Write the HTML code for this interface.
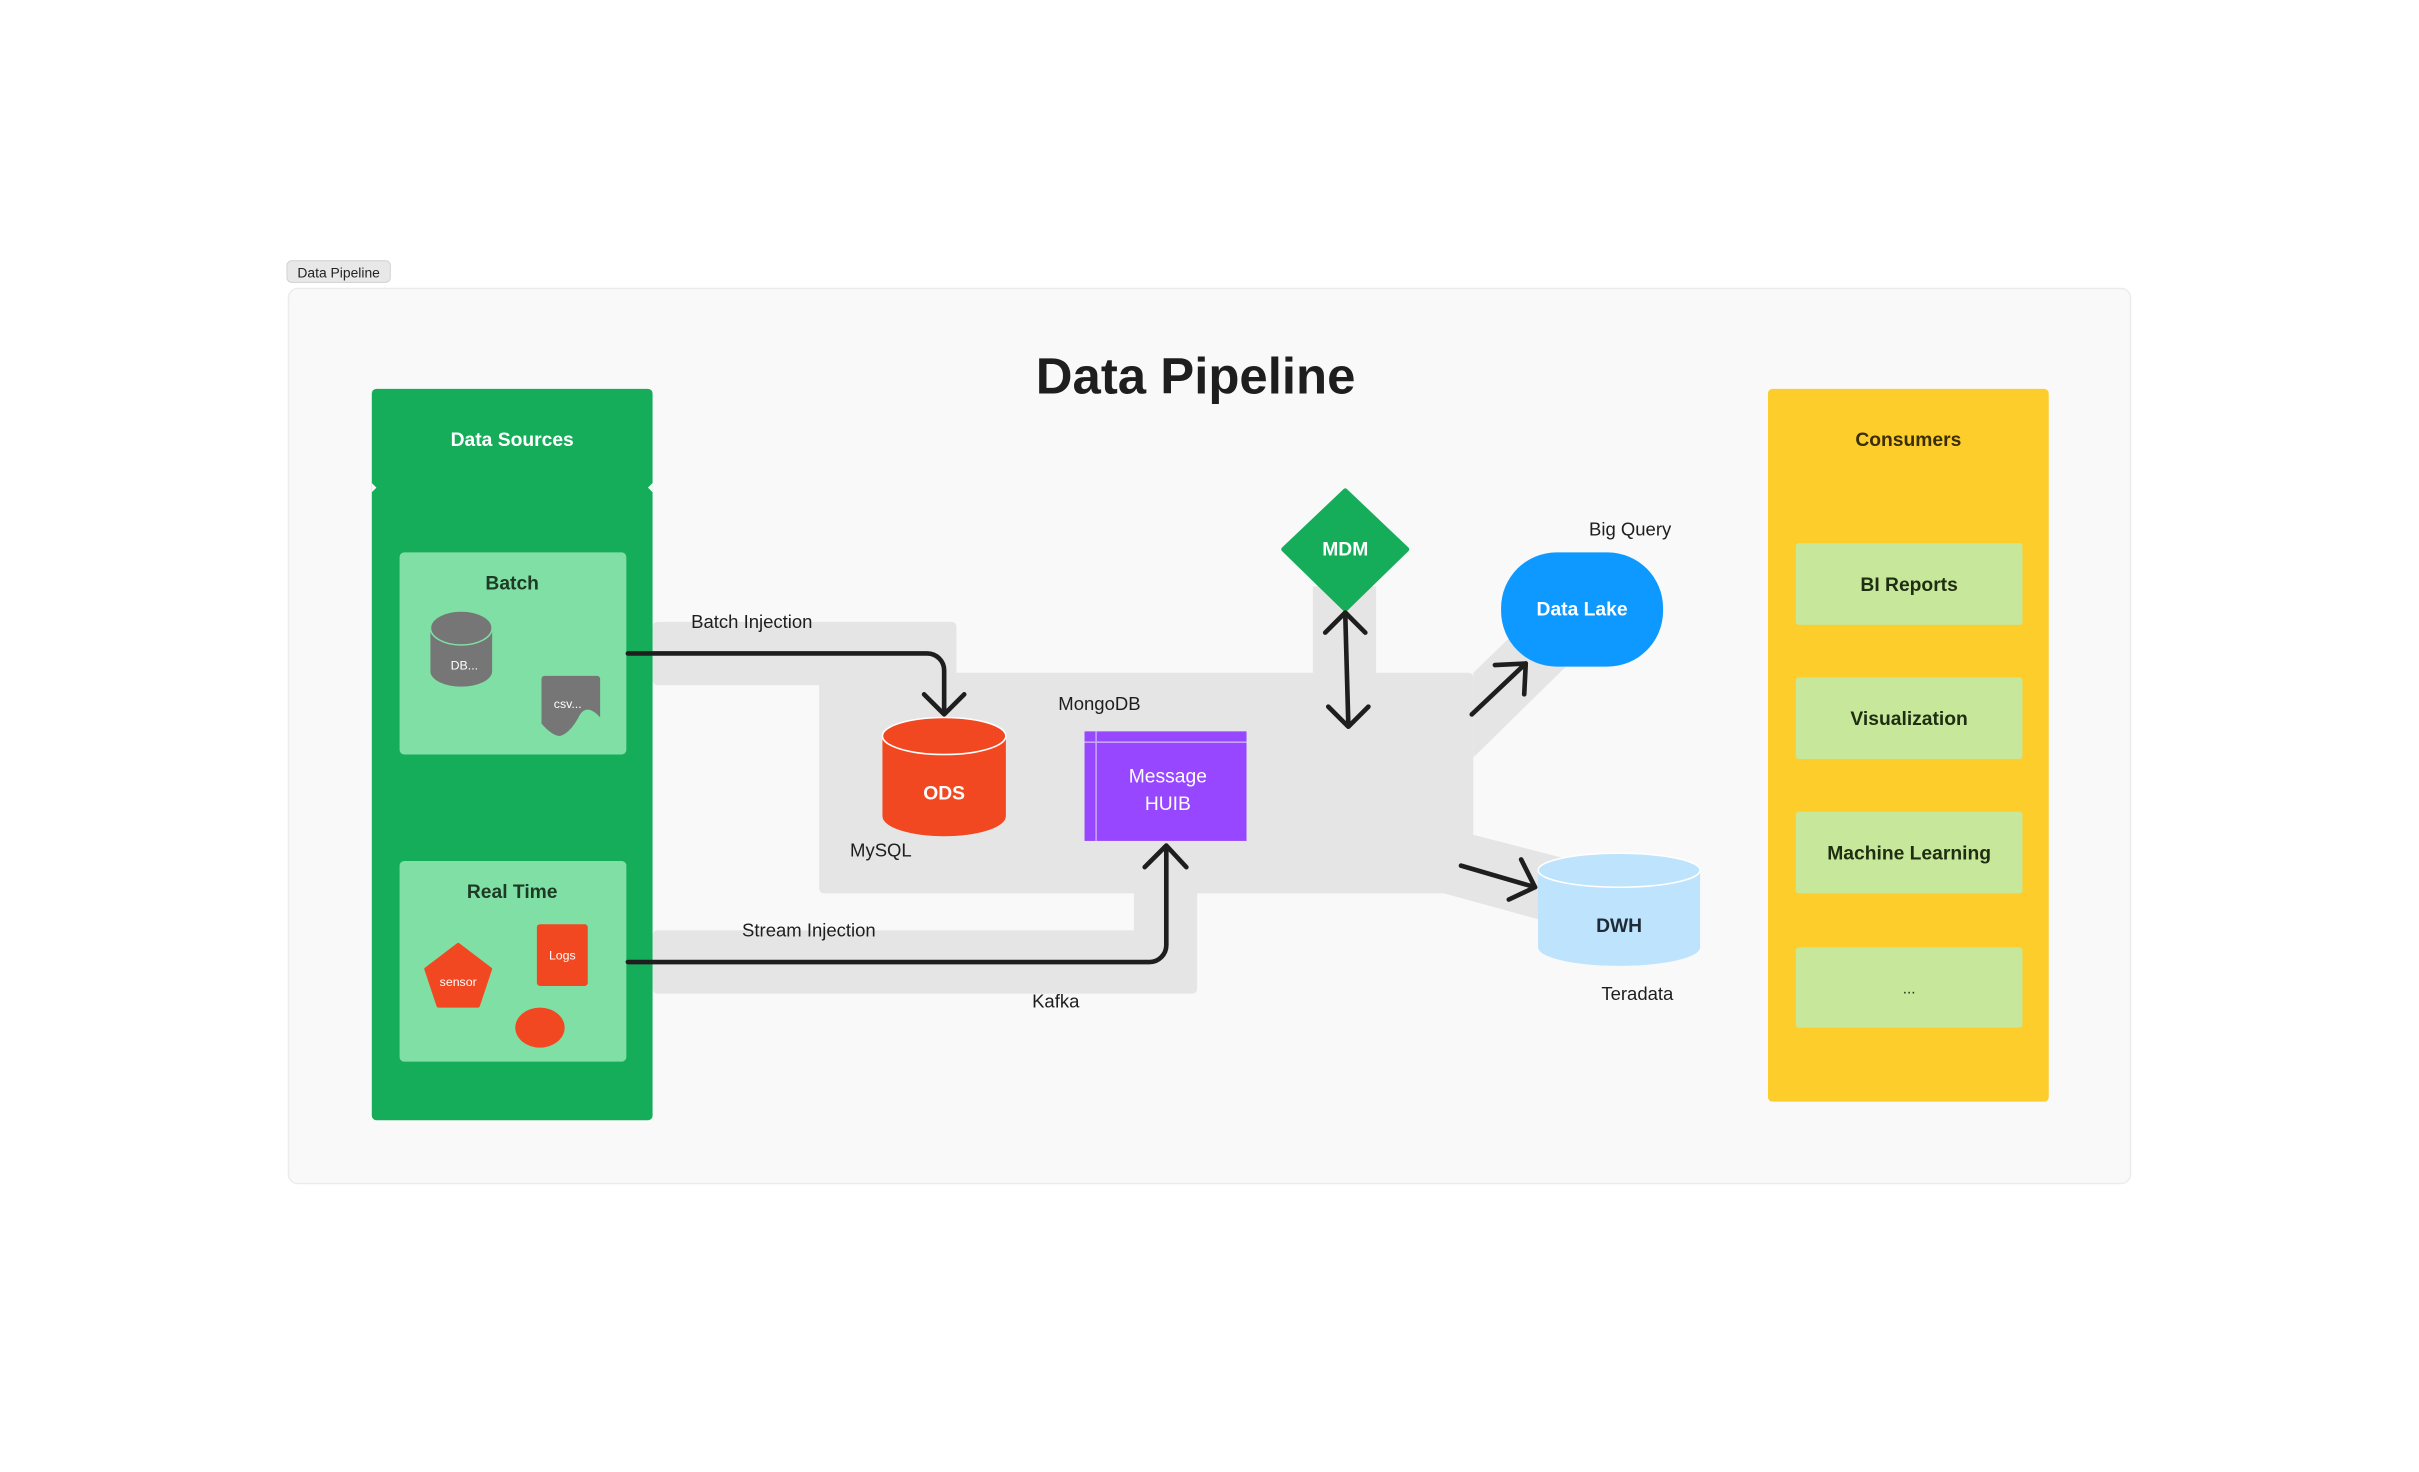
<!DOCTYPE html>
<html><head><meta charset="utf-8"><style>
html,body{margin:0;padding:0;background:#fff;width:2419px;height:1472px;overflow:hidden}
svg{display:block}
text{font-family:"Liberation Sans",sans-serif}
</style></head><body>
<svg width="2419" height="1472" viewBox="0 0 1568 954" preserveAspectRatio="none" xmlns="http://www.w3.org/2000/svg">
<rect x="0" y="0" width="1568" height="954" fill="#ffffff"/>
<!-- tag -->
<rect x="186" y="169" width="67" height="14" rx="3" fill="#e8e8e8" stroke="#cfcfcf" stroke-width="0.6"/>
<text x="219.5" y="180" font-size="9" text-anchor="middle" fill="#222">Data Pipeline</text>
<!-- frame -->
<rect x="187" y="187" width="1194" height="580" rx="6" fill="#f9f9f9" stroke="#ececec" stroke-width="1"/>
<text x="775" y="255" font-size="33" font-weight="bold" text-anchor="middle" fill="#1e1e1e">Data Pipeline</text>

<!-- gray bands -->
<g fill="#e5e5e5">
<rect x="423" y="403" width="197" height="41" rx="3"/>
<rect x="531" y="436" width="424" height="143" rx="3"/>
<rect x="588" y="436" width="32" height="8"/>
<rect x="851" y="380" width="41" height="60"/>
<rect x="423" y="603" width="353" height="41" rx="3"/>
<rect x="735" y="575" width="41" height="35"/>
<polygon points="955,436 985,407 1015,432 955,491"/>
<polygon points="955,541 1013,556 998,596 936,579"/>
</g>

<!-- Data Sources -->
<rect x="241" y="252" width="182" height="474" rx="3" fill="#16ad5a"/>
<path d="M241,313 l3,3 l-3,3 Z M423,313 l-3,3 l3,3 Z" fill="#f9f9f9"/>
<text x="332" y="289" font-size="12.5" font-weight="bold" text-anchor="middle" fill="#fff">Data Sources</text>

<rect x="259" y="358" width="147" height="131" rx="3" fill="#80dfa5"/>
<text x="332" y="382" font-size="12.5" font-weight="bold" text-anchor="middle" fill="#1e3a24">Batch</text>
<path d="M279,407 v28 a20,10 0 0 0 40,0 v-28 Z" fill="#767676"/>
<ellipse cx="299" cy="407" rx="20" ry="11" fill="#767676" stroke="#80dfa5" stroke-width="1"/>
<text x="301" y="434" font-size="8" text-anchor="middle" fill="#fff">DB...</text>
<path d="M351,438 h36 a2,2 0 0 1 2,2 v25 q-8,-9 -13,-2 q-6,12 -13,14 q-5,0 -12,-8 v-29 a2,2 0 0 1 2,-2 Z" fill="#767676"/>
<text x="368" y="459" font-size="8" text-anchor="middle" fill="#fff">csv...</text>

<rect x="259" y="558" width="147" height="130" rx="3" fill="#80dfa5"/>
<text x="332" y="582" font-size="12.5" font-weight="bold" text-anchor="middle" fill="#1e3a24">Real Time</text>
<polygon points="297,612 318,628 310,652 284,652 276,628" fill="#f24822" stroke="#f24822" stroke-width="2" stroke-linejoin="round"/>
<text x="297" y="639" font-size="8" text-anchor="middle" fill="#fff">sensor</text>
<rect x="348" y="599" width="33" height="40" rx="2" fill="#f24822"/>
<text x="364.5" y="622" font-size="8" text-anchor="middle" fill="#fff">Logs</text>
<ellipse cx="350" cy="666" rx="16" ry="13" fill="#f24822"/>

<!-- labels -->
<g font-size="12" fill="#1e1e1e">
<text x="448" y="407">Batch Injection</text>
<text x="481" y="607">Stream Injection</text>
<text x="551" y="555">MySQL</text>
<text x="686" y="460">MongoDB</text>
<text x="669" y="653">Kafka</text>
<text x="1030" y="347">Big Query</text>
<text x="1038" y="648">Teradata</text>
</g>

<!-- ODS -->
<path d="M572,477 v52 a40,13 0 0 0 80,0 v-52 Z" fill="#f24822"/>
<ellipse cx="612" cy="477" rx="40" ry="12" fill="#f24822" stroke="#fff" stroke-width="1"/>
<text x="612" y="518" font-size="12.5" font-weight="bold" text-anchor="middle" fill="#fff">ODS</text>

<!-- Message HUIB -->
<rect x="703" y="474" width="105" height="71" fill="#9747ff"/>
<line x1="703" y1="481" x2="808" y2="481" stroke="#c9a3ff" stroke-width="1"/>
<line x1="710.5" y1="474" x2="710.5" y2="545" stroke="#c9a3ff" stroke-width="1"/>
<text x="757" y="507" font-size="12.5" text-anchor="middle" fill="#fff">Message</text>
<text x="757" y="525" font-size="12.5" text-anchor="middle" fill="#fff">HUIB</text>

<!-- MDM -->
<polygon points="872,318 912,356 872,395 832,356" fill="#16ad5a" stroke="#16ad5a" stroke-width="3" stroke-linejoin="round"/>
<text x="872" y="360" font-size="12.5" font-weight="bold" text-anchor="middle" fill="#fff">MDM</text>

<!-- Data Lake -->
<rect x="973" y="358" width="105" height="74" rx="36" fill="#0d99ff"/>
<text x="1025.5" y="399" font-size="12.5" font-weight="bold" text-anchor="middle" fill="#fff">Data Lake</text>

<!-- DWH -->
<path d="M997,564 v50 a52.5,12 0 0 0 105,0 v-50 Z" fill="#bde3fd"/>
<ellipse cx="1049.5" cy="564" rx="52.5" ry="11" fill="#bde3fd" stroke="#fff" stroke-width="1"/>
<text x="1049.5" y="604" font-size="12.5" font-weight="bold" text-anchor="middle" fill="#1e2a36">DWH</text>

<!-- arrows -->
<g fill="none" stroke="#1e1e1e" stroke-width="3" stroke-linecap="round" stroke-linejoin="round">
<path d="M407,423.5 H601 a11,11 0 0 1 11,11 V461"/>
<path d="M599,450 L612,463 L625,450"/>
<path d="M407,623.5 H745 a11,11 0 0 0 11,-11 V550"/>
<path d="M742,562 L756,548 L769,562"/>
<path d="M872,398 L874,470"/>
<path d="M859,410 L872,397 L885,410"/>
<path d="M861,458 L874,471 L887,458"/>
<path d="M954,463 L989,430"/>
<path d="M969,431 L989,430 L988,450"/>
<path d="M947,561 L995,575"/>
<path d="M986,557 L995,575 L978,583"/>
</g>

<!-- Consumers -->
<rect x="1146" y="252" width="182" height="462" rx="3" fill="#fdcd2b"/>
<text x="1237" y="289" font-size="12.5" font-weight="bold" text-anchor="middle" fill="#3a2e06">Consumers</text>
<g fill="#c7e89a">
<rect x="1164" y="352" width="147" height="53" rx="2"/>
<rect x="1164" y="439" width="147" height="53" rx="2"/>
<rect x="1164" y="526" width="147" height="53" rx="2"/>
<rect x="1164" y="614" width="147" height="52" rx="2"/>
</g>
<g font-size="12.5" font-weight="bold" text-anchor="middle" fill="#1f2e12">
<text x="1237.5" y="383">BI Reports</text>
<text x="1237.5" y="470">Visualization</text>
<text x="1237.5" y="557">Machine Learning</text>
<text x="1237.5" y="644" font-weight="normal" font-size="10">...</text>
</g>
</svg>
</body></html>
